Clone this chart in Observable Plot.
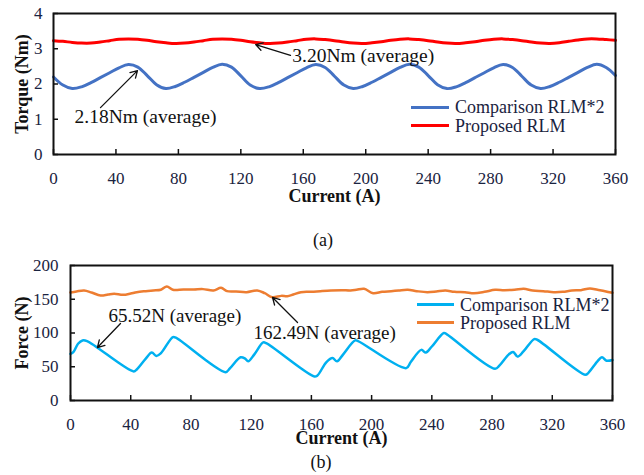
<!DOCTYPE html>
<html>
<head>
<meta charset="utf-8">
<script src="https://cdn.jsdelivr.net/npm/d3@7"></script>
<script src="https://cdn.jsdelivr.net/npm/@observablehq/plot@0.6"></script>
<style>
  body { margin: 0; background: #fff; }
  #wrap { position: relative; width: 644px; height: 475px; font-family: "Liberation Serif", "Times New Roman", serif; overflow: hidden; }
  .panel { position: absolute; left: 0; }
  .cap { position: absolute; font-size: 18px; color: #111; transform: translateX(-50%); line-height: 1; }
  .legend { position: absolute; font-size: 18px; color: #1a2340; line-height: 1; }
  .legend .row { display: flex; align-items: center; white-space: nowrap; }
  .legend .sw { display: inline-block; height: 3px; margin-right: 6px; }
</style>
</head>
<body>
<div id="wrap"></div>
<script>
// Shared axis ticks
const currentTicks = [0, 40, 80, 120, 160, 200, 240, 280, 320, 360];
const torqueTicks = [0, 1, 2, 3, 4];
const forceTicks = [0, 50, 100, 150, 200];

// (a) Torque vs current, sampled every 6 A
const torqueCurrent = [0, 6, 12, 18, 24, 30, 36, 42, 48, 54, 60, 66, 72, 78, 84, 90, 96, 102, 108, 114,
  120, 126, 132, 138, 144, 150, 156, 162, 168, 174, 180, 186, 192, 198, 204, 210, 216, 222, 228, 234,
  240, 246, 252, 258, 264, 270, 276, 282, 288, 294, 300, 306, 312, 318, 324, 330, 336, 342, 348, 354, 360];
const torqueComparison = [2.20, 1.97, 1.87, 1.92, 2.04, 2.18, 2.32, 2.46, 2.55, 2.48, 2.24, 1.98, 1.87, 1.93, 2.05, 2.19, 2.33, 2.47, 2.56, 2.48,
  2.23, 1.97, 1.87, 1.92, 2.04, 2.18, 2.32, 2.46, 2.55, 2.47, 2.22, 1.97, 1.87, 1.93, 2.05, 2.19, 2.33, 2.47, 2.56, 2.48,
  2.24, 1.98, 1.87, 1.92, 2.04, 2.18, 2.32, 2.46, 2.55, 2.47, 2.22, 1.97, 1.87, 1.93, 2.05, 2.19, 2.33, 2.47, 2.56, 2.47, 2.24];
const torqueProposed = [3.23, 3.21, 3.18, 3.16, 3.16, 3.19, 3.23, 3.27, 3.28, 3.27, 3.24, 3.20, 3.17, 3.15, 3.16, 3.19, 3.23, 3.27, 3.28, 3.27,
  3.24, 3.20, 3.17, 3.15, 3.16, 3.19, 3.23, 3.27, 3.28, 3.26, 3.23, 3.19, 3.16, 3.15, 3.17, 3.20, 3.24, 3.27, 3.28, 3.26,
  3.23, 3.19, 3.16, 3.15, 3.17, 3.20, 3.24, 3.27, 3.28, 3.26, 3.23, 3.19, 3.16, 3.15, 3.17, 3.21, 3.25, 3.28, 3.28, 3.26, 3.24];

// (b) Force vs current
const forceCmpCurrent = [0, 2, 5, 8, 11, 42, 44, 50, 54, 57, 60, 68, 70, 103, 106, 113, 116, 118, 122, 128, 130,
  162, 164, 170, 174, 177, 181, 189, 191, 223, 226, 233, 236, 240, 248, 250, 282, 285, 291, 294, 297, 301, 308, 310,
  342, 344, 350, 353, 356, 360];
const forceComparison = [69, 72, 84, 89, 88, 43, 46, 62, 71, 66, 70, 94, 93, 42, 48, 64, 62, 58, 68, 86, 85,
  35.5, 37, 57, 63, 58, 68, 89, 88, 48, 57, 75, 71, 80, 100, 98, 47, 52, 68, 72, 65, 73, 91, 90,
  38, 41, 58, 64, 59, 60];
const forcePropCurrent = [0, 4, 9, 14, 20, 25, 29, 35, 40, 44, 50, 55, 60, 64, 68, 75, 82, 88, 95, 100, 104, 110, 117,
  124, 129, 134, 140, 144, 148, 153, 160, 166, 173, 180, 186, 190, 195, 201, 207, 213, 218, 224, 230, 237, 243,
  249, 255, 262, 268, 275, 282, 288, 295, 301, 307, 314, 321, 327, 333, 339, 345, 350, 355, 360];
const forceProposed = [160, 161.5, 163, 160, 155.5, 157, 158, 156.5, 158.5, 160.5, 162, 163, 164, 169, 164, 164.5, 164.5, 165, 163, 167, 162, 161.5, 160.5,
  163, 159, 153, 155, 154.5, 157, 160.5, 161, 162, 163, 163.5, 163, 164, 165.5, 159, 161, 162, 163, 164, 162, 160.5, 161.5,
  163, 161, 160.5, 159, 161, 164, 163.5, 164, 165.5, 163, 162, 160.5, 161, 163, 163.5, 166, 164, 162, 159.5];

const seriesNames = ["Comparison RLM*2", "Proposed RLM"];
const torqueColors = ["#4472C4", "#FF0000"];
const forceColors = ["#00B0F0", "#ED7D31"];

// Average annotations: label position and arrow from label to curve
const torqueNotes = [
  {text: "3.20Nm (average)", x: 153, y: 2.81, x1: 151.8, y1: 2.81, x2: 129.5, y2: 3.12},
  {text: "2.18Nm (average)", x: 13.5, y: 1.07, x1: 30.1, y1: 1.33, x2: 53.8, y2: 2.38}
];
const forceNotes = [
  {text: "65.52N (average)", x: 25.2, y: 126, x1: 33.2, y1: 114, x2: 17.9, y2: 78.5},
  {text: "162.49N (average)", x: 121.5, y: 100.7, x1: 150.8, y1: 115.6, x2: 134.2, y2: 152.6}
];

const tickInk = "#1a2340";
const font = '"Liberation Serif", "Times New Roman", serif';

function toRows(xs, ys, name) {
  return xs.map((x, i) => ({current: x, value: ys[i], series: name}));
}

function panel({height, margin, yDomain, yTicks, yLabel, rows, colors, notes, noteSize, lineWidth, xLabelDy, yLabelDx, yPad}) {
  return Plot.plot({
    width: 644,
    height,
    marginTop: margin.top, marginRight: margin.right, marginBottom: margin.bottom, marginLeft: margin.left,
    style: {fontFamily: font, background: "transparent", overflow: "visible"},
    x: {domain: [0, 360]},
    y: {domain: yDomain},
    color: {domain: seriesNames, range: colors},
    marks: [
      Plot.line(rows, {x: "current", y: "value", z: "series", stroke: "series", strokeWidth: lineWidth, curve: "catmull-rom"}),
      Plot.frame({stroke: "#111", strokeWidth: 2}),
      // inward tick marks
      Plot.axisX(currentTicks, {tickSize: -5, fill: "none", stroke: "#111", strokeWidth: 1.5, label: null}),
      Plot.axisY(yTicks, {tickSize: -5, fill: "none", stroke: "#111", strokeWidth: 1.5, label: null}),
      // tick labels
      Plot.axisX(currentTicks, {tickSize: 0, tickPadding: 17, fontSize: 17, color: tickInk, label: null}),
      Plot.axisY(yTicks, {tickSize: 0, tickPadding: yPad, fontSize: 17, color: tickInk, label: null}),
      // axis titles
      Plot.text(["Current (A)"], {text: d => d, frameAnchor: "bottom", lineAnchor: "middle", textAnchor: "middle", dy: xLabelDy, fontSize: 18, fontWeight: "bold", fill: "#111"}),
      Plot.text([yLabel], {text: d => d, frameAnchor: "left", lineAnchor: "middle", textAnchor: "middle", dx: yLabelDx, rotate: -90, fontSize: 18, fontWeight: "bold", fill: "#111"}),
      // average annotations
      Plot.arrow(notes, {x1: "x1", y1: "y1", x2: "x2", y2: "y2", stroke: "#111", strokeWidth: 1.3, headLength: 9}),
      Plot.text(notes, {x: "x", y: "y", text: "text", textAnchor: "start", fontSize: noteSize, fill: "#111"})
    ]
  });
}

function legend(colors, left, top, rowH, swW) {
  const div = document.createElement("div");
  div.className = "legend";
  div.style.left = left + "px";
  div.style.top = top + "px";
  seriesNames.forEach((name, i) => {
    const row = document.createElement("div");
    row.className = "row";
    row.style.height = rowH + "px";
    const sw = document.createElement("span");
    sw.className = "sw";
    sw.style.width = swW + "px";
    sw.style.background = colors[i];
    const t = document.createElement("span");
    t.textContent = name;
    row.append(sw, t);
    div.append(row);
  });
  return div;
}

function caption(text, cx, top) {
  const d = document.createElement("div");
  d.className = "cap";
  d.style.left = cx + "px";
  d.style.top = top + "px";
  d.textContent = text;
  return d;
}

const wrap = document.getElementById("wrap");

const chartA = panel({
  height: 215,
  margin: {top: 13, right: 29, bottom: 61, left: 53},
  yDomain: [0, 4], yTicks: torqueTicks, yLabel: "Torque (Nm)",
  rows: [...toRows(torqueCurrent, torqueComparison, seriesNames[0]), ...toRows(torqueCurrent, torqueProposed, seriesNames[1])],
  colors: torqueColors, notes: torqueNotes, noteSize: 19.5, lineWidth: 3, xLabelDy: 42, yLabelDx: -31, yPad: 11
});
chartA.classList.add("panel");
chartA.style.top = "0px";
wrap.append(chartA);
wrap.append(legend(torqueColors, 411, 98, 18.5, 38));
wrap.append(caption("(a)", 323, 231));

const chartB = panel({
  height: 200,
  margin: {top: 15, right: 32, bottom: 50, left: 70},
  yDomain: [0, 200], yTicks: forceTicks, yLabel: "Force (N)",
  rows: [...toRows(forceCmpCurrent, forceComparison, seriesNames[0]), ...toRows(forcePropCurrent, forceProposed, seriesNames[1])],
  colors: forceColors, notes: forceNotes, noteSize: 19, lineWidth: 2.5, xLabelDy: 38, yLabelDx: -48, yPad: 12
});
chartB.classList.add("panel");
chartB.style.top = "250px";
wrap.append(chartB);
wrap.append(legend(forceColors, 417, 296, 17.7, 37));
wrap.append(caption("(b)", 321, 453));
</script>
</body>
</html>
